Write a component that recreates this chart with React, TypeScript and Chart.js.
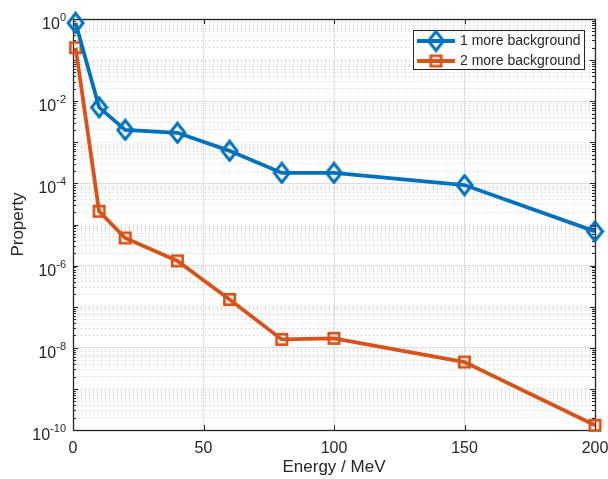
import React, { useEffect, useRef } from 'react';
import { Chart, registerables } from 'chart.js';

Chart.register(...registerables);

// ---- data ----
const energies = [1, 10, 20, 40, 60, 80, 100, 150, 200];
const series1 = [0.8, 7.1e-3, 2.0e-3, 1.7e-3, 6.2e-4, 1.8e-4, 1.8e-4, 9.1e-5, 6.8e-6];
const series2 = [0.2, 2.1e-5, 4.7e-6, 1.3e-6, 1.5e-7, 1.6e-8, 1.7e-8, 4.5e-9, 1.3e-10];
const seriesNames = ['1 more background', '2 more background'];
const xTicks = [0, 50, 100, 150, 200];
const yMajorExponents = [0, -2, -4, -6, -8, -10];
const yLabelBase = '10';
const xTitle = 'Energy / MeV';
const yTitle = 'Property';

const BLUE = '#0072BD';
const ORANGE = '#D95319';
const AXIS = '#262626';
const FONT = '"Liberation Sans", Arial, Helvetica, sans-serif';

function buildYTicks(): number[] {
  const out: number[] = [];
  for (let k = -10; k < 0; k++) {
    for (let m = 1; m <= 9; m++) out.push(parseFloat(`${m}e${k}`));
  }
  out.push(1);
  return out;
}
const yTickValues = buildYTicks();

function isMajorY(v: number) {
  const e = Math.log10(v);
  const r = Math.round(e);
  return Math.abs(e - r) < 1e-9 && r % 2 === 0;
}
function isDecade(v: number) {
  const e = Math.log10(v);
  return Math.abs(e - Math.round(e)) < 1e-9;
}

function makeDiamond(color: string) {
  const c = document.createElement('canvas');
  c.width = 19;
  c.height = 23;
  const g = c.getContext('2d')!;
  g.strokeStyle = color;
  g.lineWidth = 3;
  g.lineJoin = 'miter';
  g.beginPath();
  g.moveTo(9.5, 2);
  g.lineTo(17, 11.5);
  g.lineTo(9.5, 21);
  g.lineTo(2, 11.5);
  g.closePath();
  g.stroke();
  return c;
}
function makeSquare(color: string) {
  const c = document.createElement('canvas');
  c.width = 15;
  c.height = 15;
  const g = c.getContext('2d')!;
  g.strokeStyle = color;
  g.lineWidth = 2.7;
  g.strokeRect(2.3, 2.3, 10.4, 10.4);
  return c;
}

const boxPlugin = {
  id: 'matlabBox',
  beforeDatasetsDraw(chart: any) {
    const { ctx, chartArea, scales } = chart;
    const { left, right, top, bottom } = chartArea;
    const x = scales.x;
    const y = scales.y;
    ctx.save();
    ctx.strokeStyle = AXIS;
    ctx.lineWidth = 1;
    ctx.beginPath();
    y.ticks.forEach((t: any) => {
      const py = Math.round(y.getPixelForValue(t.value)) + 0.5;
      const len = isDecade(t.value) ? 5 : 3;
      ctx.moveTo(left, py);
      ctx.lineTo(left + len, py);
      ctx.moveTo(right, py);
      ctx.lineTo(right - len, py);
    });
    x.ticks.forEach((t: any) => {
      const px = Math.round(x.getPixelForValue(t.value)) + 0.5;
      ctx.moveTo(px, bottom);
      ctx.lineTo(px, bottom - 5);
      ctx.moveTo(px, top);
      ctx.lineTo(px, top + 5);
    });
    ctx.stroke();
    ctx.lineWidth = 1.3;
    ctx.strokeRect(Math.round(left) + 0.5, Math.round(top) + 0.5, Math.round(right - left), Math.round(bottom - top));

    // y tick labels with superscript exponents
    ctx.fillStyle = AXIS;
    ctx.textBaseline = 'alphabetic';
    ctx.textAlign = 'left';
    yMajorExponents.forEach((e) => {
      const py = y.getPixelForValue(Math.pow(10, e));
      const expText = String(e);
      ctx.font = `11px ${FONT}`;
      const wExp = ctx.measureText(expText).width;
      ctx.font = `16px ${FONT}`;
      const wBase = ctx.measureText(yLabelBase).width;
      const xEnd = left - 7;
      ctx.fillText(yLabelBase, xEnd - wExp - wBase, py + 10);
      ctx.font = `11px ${FONT}`;
      ctx.fillText(expText, xEnd - wExp, py + 2);
    });
    ctx.restore();
  },
};

const legendPlugin = {
  id: 'matlabLegend',
  afterDatasetsDraw(chart: any) {
    const { ctx } = chart;
    const bx = 413.5, by = 30.5, bw = 171, bh = 39;
    ctx.save();
    ctx.fillStyle = '#ffffff';
    ctx.fillRect(bx, by, bw, bh);
    ctx.strokeStyle = AXIS;
    ctx.lineWidth = 1;
    ctx.strokeRect(bx, by, bw, bh);
    const rows = [41, 61];
    chart.data.datasets.forEach((ds: any, i: number) => {
      const cy = rows[i];
      ctx.strokeStyle = ds.borderColor;
      ctx.lineWidth = 3.8;
      ctx.beginPath();
      ctx.moveTo(417, cy);
      ctx.lineTo(455, cy);
      ctx.stroke();
      const img = ds.pointStyle as HTMLCanvasElement;
      ctx.drawImage(img, 436 - img.width / 2, cy - img.height / 2);
      ctx.fillStyle = AXIS;
      ctx.font = `14px ${FONT}`;
      ctx.textBaseline = 'middle';
      ctx.textAlign = 'left';
      ctx.fillText(ds.label, 460, cy + 0.5);
    });
    ctx.restore();
  },
};

export default function App() {
  const canvasRef = useRef<HTMLCanvasElement | null>(null);

  useEffect(() => {
    const canvas = canvasRef.current;
    if (!canvas) return;
    const diamond = makeDiamond(BLUE);
    const square = makeSquare(ORANGE);

    const chart = new Chart(canvas, {
      type: 'line',
      data: {
        datasets: [
          {
            label: seriesNames[0],
            data: energies.map((e, i) => ({ x: e, y: series1[i] })),
            borderColor: BLUE,
            borderWidth: 3.8,
            pointStyle: diamond as any,
            pointRadius: 8,
            pointBorderColor: BLUE,
            pointBackgroundColor: 'rgba(0,0,0,0)',
            tension: 0,
            clip: false as any,
          },
          {
            label: seriesNames[1],
            data: energies.map((e, i) => ({ x: e, y: series2[i] })),
            borderColor: ORANGE,
            borderWidth: 3.8,
            pointStyle: square as any,
            pointRadius: 7,
            pointBorderColor: ORANGE,
            pointBackgroundColor: 'rgba(0,0,0,0)',
            tension: 0,
            clip: false as any,
          },
        ],
      },
      options: {
        responsive: false,
        animation: false,
        devicePixelRatio: 1,
        layout: { padding: { left: 0, right: 13, top: 19, bottom: 0 } },
        plugins: {
          legend: { display: false },
          tooltip: { enabled: false },
        },
        scales: {
          x: {
            type: 'linear',
            min: 0,
            max: 200,
            afterFit: (s: any) => {
              s.height = 49;
              s.paddingLeft = 0;
              s.paddingRight = 0;
            },
            afterBuildTicks: (s: any) => {
              s.ticks = xTicks.map((v) => ({ value: v }));
            },
            ticks: {
              autoSkip: false,
              maxRotation: 0,
              padding: 9,
              color: AXIS,
              font: { family: FONT, size: 16 },
            },
            grid: { color: '#dedede', lineWidth: 1, drawTicks: false },
            border: { display: false },
            title: {
              display: true,
              text: xTitle,
              color: AXIS,
              font: { family: FONT, size: 17 },
              padding: { top: 0, bottom: 1 },
            },
          },
          y: {
            type: 'logarithmic',
            min: 1e-10,
            max: 1,
            afterFit: (s: any) => {
              s.width = 73;
              s.paddingTop = 0;
              s.paddingBottom = 0;
            },
            afterBuildTicks: (s: any) => {
              s.ticks = yTickValues.map((v) => ({ value: v }));
            },
            ticks: {
              display: false,
              autoSkip: false,
            },
            grid: {
              drawTicks: false,
              lineWidth: 1,
              color: (c: any) => (c.tick && isMajorY(c.tick.value) ? '#dedede' : 'rgba(0,0,0,0.2)'),
            },
            border: {
              display: false,
              dash: (c: any) => (c.tick && !isMajorY(c.tick.value) ? [1, 3] : []),
            },
            title: {
              display: true,
              text: yTitle,
              color: AXIS,
              font: { family: FONT, size: 17 },
              padding: { top: 8, bottom: 0 },
            },
          },
        },
      },
      plugins: [boxPlugin, legendPlugin],
    });

    return () => chart.destroy();
  }, []);

  return (
    <div style={{ position: 'absolute', left: 0, top: 0, width: 608, height: 479, background: '#fff' }}>
      <canvas ref={canvasRef} width={608} height={479} style={{ display: 'block', width: 608, height: 479 }} />
    </div>
  );
}
